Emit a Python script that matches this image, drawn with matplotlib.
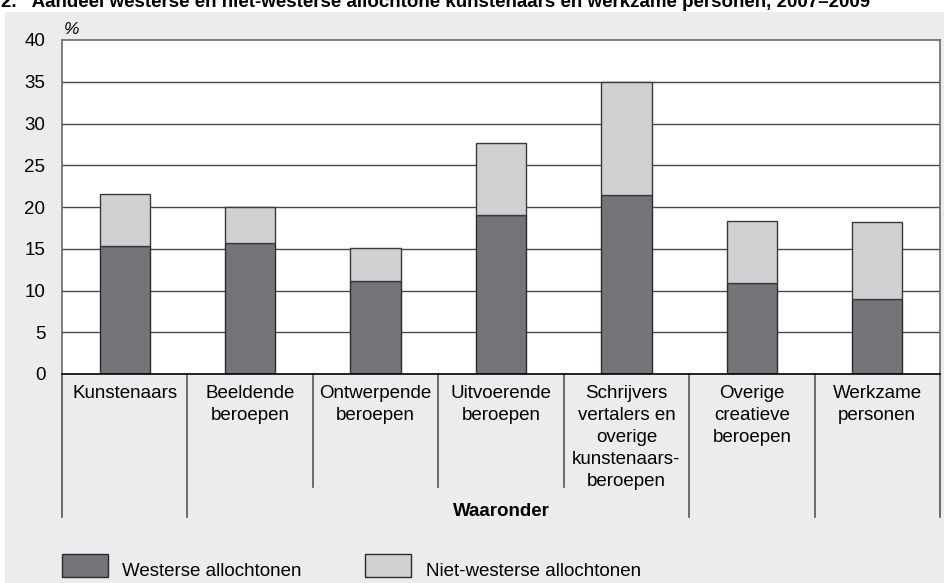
import numpy as np
import matplotlib.pyplot as plt
from matplotlib.patches import Rectangle
import matplotlib.transforms as mtransforms

plt.rcParams['font.family'] = ['Liberation Sans', 'DejaVu Sans']

# data
categories = ['Kunstenaars', 'Beeldende\nberoepen', 'Ontwerpende\nberoepen', 'Uitvoerende\nberoepen',
              'Schrijvers\nvertalers en\noverige\nkunstenaars-\nberoepen', 'Overige\ncreatieve\nberoepen',
              'Werkzame\npersonen']
westers = [15.3, 15.7, 11.1, 19.1, 21.4, 10.9, 9.0]
niet_westers = [6.3, 4.3, 4.0, 8.6, 13.6, 7.4, 9.2]
yticks = [0, 5, 10, 15, 20, 25, 30, 35, 40]

W, H = 944, 583
fig = plt.figure(figsize=(W / 100, H / 100), dpi=100)
fig.patch.set_facecolor('white')

# grey panel behind everything
fig.patches.append(Rectangle((5 / W, 0), 1, 1 - 12 / H, transform=fig.transFigure,
                             facecolor='#ececee', edgecolor='none', zorder=-5))

fig.text(1 / W, 1 - 7 / H, '2.   Aandeel westerse en niet-westerse allochtone kunstenaars en werkzame personen, 2007\u20132009',
         fontsize=13.5, fontweight='bold', va='baseline', ha='left')

ax = fig.add_axes([62 / W, (H - 374) / H, 878 / W, 334 / H])
ax.set_facecolor('white')
x = np.arange(len(categories))
dark = '#767479'
light = '#d0d1d3'
ax.bar(x, westers, width=0.4, color=dark, edgecolor='#2a2a2a', linewidth=1, zorder=3)
ax.bar(x, niet_westers, width=0.4, bottom=westers, color=light, edgecolor='#3a3a3a', linewidth=1, zorder=3)

ax.set_xlim(-0.5, len(categories) - 0.5)
ax.set_ylim(0, 40)
ax.set_yticks(yticks)
ax.tick_params(axis='y', length=0, pad=12, labelsize=13.5)
ax.set_xticks([])
for v in yticks[1:-1]:
    ax.axhline(v, color='#4a4a4a', lw=1, zorder=1)
for s in ['top', 'right', 'left']:
    ax.spines[s].set_color('#6a6a6a')
    ax.spines[s].set_linewidth(1.2)
ax.spines['bottom'].set_color('black')
ax.spines['bottom'].set_linewidth(1.2)
ax.spines['bottom'].set_zorder(4)

ax.text(0.002, 1.008, '%', transform=ax.transAxes, fontsize=12.5, style='italic', va='bottom', ha='left')

# category separators and labels below the axis
trans = mtransforms.blended_transform_factory(ax.transData, ax.transAxes)
long_sep = [True, True, False, False, False, True, True, True]
for i, lng in enumerate(long_sep):
    ybot = -143 / 334 if lng else -113 / 334
    ax.plot([i - 0.5, i - 0.5], [0, ybot], transform=trans, color='#555555', lw=1.2, clip_on=False)
for i, lab in enumerate(categories):
    ax.text(i, -11 / 334, lab, transform=trans, ha='center', va='top', fontsize=13.5, linespacing=1.39)
ax.text(3, -138 / 334, 'Waaronder', transform=trans, ha='center', va='center', fontsize=13.5, fontweight='bold')

# legend
leg = [('Westerse allochtonen', dark, 62, 122), ('Niet-westerse allochtonen', light, 365, 426)]
for lab, col, bx, tx in leg:
    fig.patches.append(Rectangle((bx / W, (H - 577) / H), 46 / W, 23 / H, transform=fig.transFigure,
                                 facecolor=col, edgecolor='#2a2a2a', lw=1, zorder=2))
    fig.text(tx / W, (H - 571) / H, lab, fontsize=13.5, va='center', ha='left')

fig.savefig('out.png', dpi=100)
